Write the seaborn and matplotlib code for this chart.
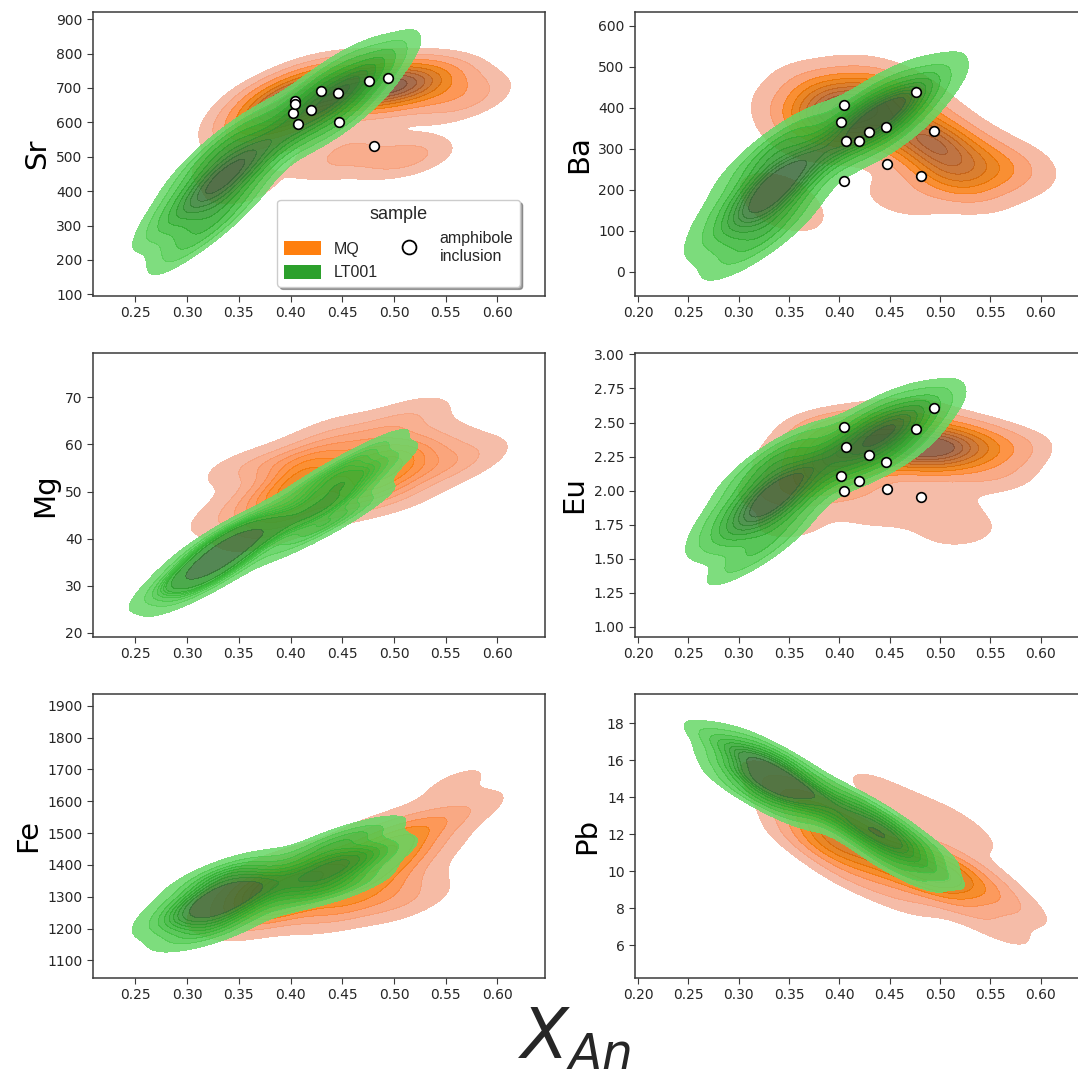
import numpy as np
import pandas as pd
import matplotlib
matplotlib.use("Agg")
import matplotlib.pyplot as plt
import seaborn as sns
from matplotlib.patches import Patch
from matplotlib.lines import Line2D
from matplotlib.ticker import MultipleLocator, FormatStrFormatter

# ---------------- data ----------------
MQ_An = [0.395, 0.402, 0.388, 0.406, 0.382, 0.415, 0.373, 0.399, 0.391, 0.421,
         0.366, 0.428, 0.360, 0.410, 0.380, 0.439,
         0.490, 0.498, 0.482, 0.504, 0.473, 0.515, 0.462, 0.496, 0.484, 0.524,
         0.454, 0.532, 0.445, 0.510, 0.470, 0.546,
         0.335, 0.350, 0.440, 0.460, 0.500, 0.520, 0.560, 0.575]
MQ_Sr = [650, 677, 626, 651, 641, 697, 592, 694, 606, 734,
         558, 698, 601, 632, 671, 748,
         705, 719, 694, 692, 714, 718, 686, 735, 675, 740,
         667, 703, 709, 671, 741, 729,
         470, 400, 480, 540, 490, 505, 650, 690]
MQ_Ba = [390, 413, 371, 372, 402, 415, 354, 438, 341, 452,
         322, 394, 389, 339, 445, 438,
         320, 327, 318, 269, 370, 292, 342, 362, 278, 315,
         325, 232, 417, 221, 424, 251,
         200, 140, 470, 180, 240, 200, 250, 270]
MQ_Mg = [50, 53.2, 47.4, 48.4, 50.8, 54.1, 44.5, 56.2, 43.8, 59.0,
         40.2, 52.3, 48.0, 44.6, 56.0, 58.3,
         55, 57.4, 53.1, 52.7, 56.7, 57.3, 51.6, 60.3, 49.7, 61.2,
         48.2, 54.6, 55.8, 49, 61.5, 59.3,
         44, 55, 63, 47, 64, 67, 55, 58]
MQ_Eu = [2.25, 2.34, 2.18, 2.18, 2.30, 2.34, 2.12, 2.43, 2.07, 2.48,
         1.99, 2.26, 2.25, 2.06, 2.46, 2.43,
         2.32, 2.36, 2.29, 2.25, 2.38, 2.33, 2.29, 2.42, 2.22, 2.39,
         2.24, 2.25, 2.40, 2.17, 2.48, 2.32,
         2.00, 1.75, 1.85, 2.55, 1.85, 1.70, 2.10, 2.30]
MQ_Fe = [1320, 1352, 1294, 1297, 1334, 1355, 1270, 1385, 1255, 1405,
         1226, 1329, 1314, 1254, 1392, 1390,
         1420, 1463, 1385, 1396, 1432, 1473, 1348, 1503, 1337, 1538,
         1290, 1446, 1398, 1344, 1503, 1526,
         1250, 1330, 1260, 1250, 1290, 1280, 1660, 1580]
MQ_Pb = [12.0, 12.3, 11.8, 10.9, 13.0, 11.7, 12.1, 13.2, 10.8, 12.4,
         11.6, 10.4, 13.8, 9.7, 14.4, 11.1,
         10.0, 10.2, 9.9, 9.2, 10.7, 9.8, 10.1, 10.8, 9.2, 10.3,
         9.7, 8.9, 11.2, 8.5, 11.6, 9.4,
         15.0, 13.5, 14.5, 8.5, 13.0, 12.0, 6.8, 8.0]

LT_An = [0.333, 0.339, 0.327, 0.343, 0.321, 0.351, 0.313, 0.337, 0.329, 0.357,
         0.307, 0.363, 0.301, 0.347, 0.319, 0.373, 0.293, 0.335, 0.331, 0.353,
         0.309,
         0.440, 0.448, 0.432, 0.456, 0.424, 0.464, 0.416, 0.446, 0.434, 0.472,
         0.408, 0.460, 0.420, 0.480, 0.400]
LT_Sr = [430, 464, 402, 417, 434, 477, 368, 493, 367, 528,
         300, 462, 399, 381, 484, 526, 339, 544, 310, 564,
         260,
         670, 707, 638, 664, 681, 721, 619, 739, 596, 750,
         572, 625, 710, 720, 620]
LT_Ba = [200, 231, 175, 182, 210, 238, 148, 261, 139, 286,
         106, 218, 185, 144, 262, 276, 129, 313, 82, 324,
         65,
         380, 408, 356, 372, 392, 416, 344, 434, 322, 440,
         308, 340, 416, 412, 348]
LT_Mg = [36.5, 38.1, 35.1, 36.4, 36.2, 39.1, 33.2, 39.2, 33.8, 41.4,
         31.2, 39.0, 34.0, 35.1, 38.1, 42.0, 31.3, 41.1, 31.6, 42.6,
         29.7,
         49, 52.2, 46.2, 49, 49.4, 53.8, 44.2, 54.7, 42.9, 57.8,
         40.2, 46, 51.6, 54.2, 43.8]
LT_Eu = [1.95, 2.03, 1.88, 1.90, 1.98, 2.05, 1.81, 2.12, 1.78, 2.18,
         1.70, 2.00, 1.91, 1.80, 2.12, 2.16, 1.76, 2.26, 1.63, 2.29,
         1.50,
         2.40, 2.49, 2.32, 2.37, 2.44, 2.51, 2.29, 2.57, 2.21, 2.58,
         2.17, 2.27, 2.52, 2.49, 2.31]
LT_Fe = [1290, 1314, 1270, 1273, 1300, 1317, 1252, 1339, 1241, 1354,
         1219, 1297, 1285, 1241, 1343, 1344, 1241, 1382, 1193, 1386,
         1185,
         1390, 1425, 1360, 1379, 1406, 1434, 1346, 1480, 1318, 1500,
         1302, 1339, 1436, 1428, 1352]
LT_Pb = [15.0, 15.1, 14.9, 14.3, 15.7, 14.7, 15.2, 15.6, 14.4, 15.0,
         15.0, 13.9, 16.6, 13.7, 16.4, 14.2, 16.4, 16.4, 13.6, 15.7,
         14.3,
         12.0, 12.1, 12.0, 11.0, 13.1, 11.4, 12.6, 12.8, 11.2, 11.7,
         12.3, 10.1, 13.8, 10.4, 13.6]

AMPH_An = [0.402, 0.4045, 0.4045, 0.407, 0.420, 0.429, 0.446, 0.447, 0.476, 0.481, 0.494]
AMPH_Sr = [627, 662, 652, 595, 637, 691, 686, 601, 719, 530, 729]
AMPH_Ba = [365, 406, 221, 319, 320, 341, 354, 263, 439, 235, 344]
AMPH_Eu = [2.11, 2.47, 2.00, 2.32, 2.07, 2.26, 2.21, 2.01, 2.45, 1.95, 2.61]

SAMPLES = ["MQ", "LT001"]
COLORS = {"MQ": "tab:orange", "LT001": "tab:green"}

# ---------------- build table ----------------
mq = pd.DataFrame({"An": MQ_An, "Sr": MQ_Sr, "Ba": MQ_Ba, "Mg": MQ_Mg,
                   "Eu": MQ_Eu, "Fe": MQ_Fe, "Pb": MQ_Pb})
mq["sample"] = "MQ"
lt = pd.DataFrame({"An": LT_An, "Sr": LT_Sr, "Ba": LT_Ba, "Mg": LT_Mg,
                   "Eu": LT_Eu, "Fe": LT_Fe, "Pb": LT_Pb})
lt["sample"] = "LT001"
df = pd.concat([mq, lt], ignore_index=True)
amph = pd.DataFrame({"An": AMPH_An, "Sr": AMPH_Sr, "Ba": AMPH_Ba, "Eu": AMPH_Eu})

# ---------------- style ----------------
sns.set_style("ticks")
plt.rcParams.update({
    "font.family": ["DejaVu Sans"],
    "axes.edgecolor": "#3a3a3a",
    "axes.linewidth": 1.1,
    "xtick.color": "#3a3a3a",
    "ytick.color": "#3a3a3a",
    "xtick.labelcolor": "#262626",
    "ytick.labelcolor": "#262626",
    "xtick.labelsize": 10,
    "ytick.labelsize": 10,
    "xtick.major.size": 4,
    "ytick.major.size": 4,
})

W, H = 1078, 1076
fig = plt.figure(figsize=(W / 100, H / 100), dpi=100)

def box(x0, y0, w, h):
    return [x0 / W, 1 - (y0 + h) / H, w / W, h / H]

panels = [
    ("Sr", box(93, 12, 452, 284), (0.209, 0.646), (95, 921), 100, True),
    ("Ba", box(635, 12, 452, 284), (0.197, 0.646), (-59, 634), 100, True),
    ("Mg", box(93, 353, 452, 284), (0.209, 0.646), (19.15, 79.4), 10, False),
    ("Eu", box(635, 353, 452, 284), (0.197, 0.646), (0.926, 3.01), 0.25, True),
    ("Fe", box(93, 694, 452, 284), (0.209, 0.646), (1044.5, 1937), 100, False),
    ("Pb", box(635, 694, 452, 284), (0.197, 0.646), (4.22, 19.57), 2, False),
]

axes = {}
for el, rect, xl, yl, step, has_pts in panels:
    ax = fig.add_axes(rect)
    axes[el] = ax
    sns.kdeplot(data=df, x="An", y=el, hue="sample", hue_order=SAMPLES,
                palette=COLORS, fill=True, alpha=0.85, bw_adjust=0.9,
                legend=False, ax=ax)
    if has_pts:
        ax.scatter(amph["An"], amph[el], s=48, facecolor="white",
                   edgecolor="black", linewidth=1.2, zorder=5)
    ax.set_xlim(*xl)
    ax.set_ylim(*yl)
    ax.xaxis.set_major_locator(MultipleLocator(0.05))
    ax.xaxis.set_major_formatter(FormatStrFormatter("%.2f"))
    ax.yaxis.set_major_locator(MultipleLocator(step))
    if el == "Eu":
        ax.yaxis.set_major_formatter(FormatStrFormatter("%.2f"))
    else:
        ax.yaxis.set_major_formatter(FormatStrFormatter("%d"))
    ax.set_xlabel("")
    ax.set_ylabel(el, fontsize=21, color="black")
    for sp in ax.spines.values():
        sp.set_visible(True)

# legend in Sr panel
handles = [
    Patch(facecolor="tab:orange", edgecolor="none", label="MQ"),
    Patch(facecolor="tab:green", edgecolor="none", label="LT001"),
    Line2D([], [], marker="o", ls="", mfc="white", mec="black", ms=10,
           mew=1.3, label="amphibole\ninclusion"),
]
leg = axes["Sr"].legend(
    handles=handles, title="sample", ncol=2, loc="lower right",
    bbox_to_anchor=(0.962, 0.005), shadow=True, fancybox=True,
    prop={"family": "Liberation Sans", "size": 11.5},
    title_fontproperties={"family": "Liberation Sans", "size": 13},
    framealpha=1, edgecolor="#cccccc", handlelength=2.3, handleheight=1.0,
    columnspacing=0.8)

fig.text(518 / W, 3 / H, r"$X_{An}$", fontsize=50, ha="left", va="bottom")

fig.savefig("out.png", dpi=100)
